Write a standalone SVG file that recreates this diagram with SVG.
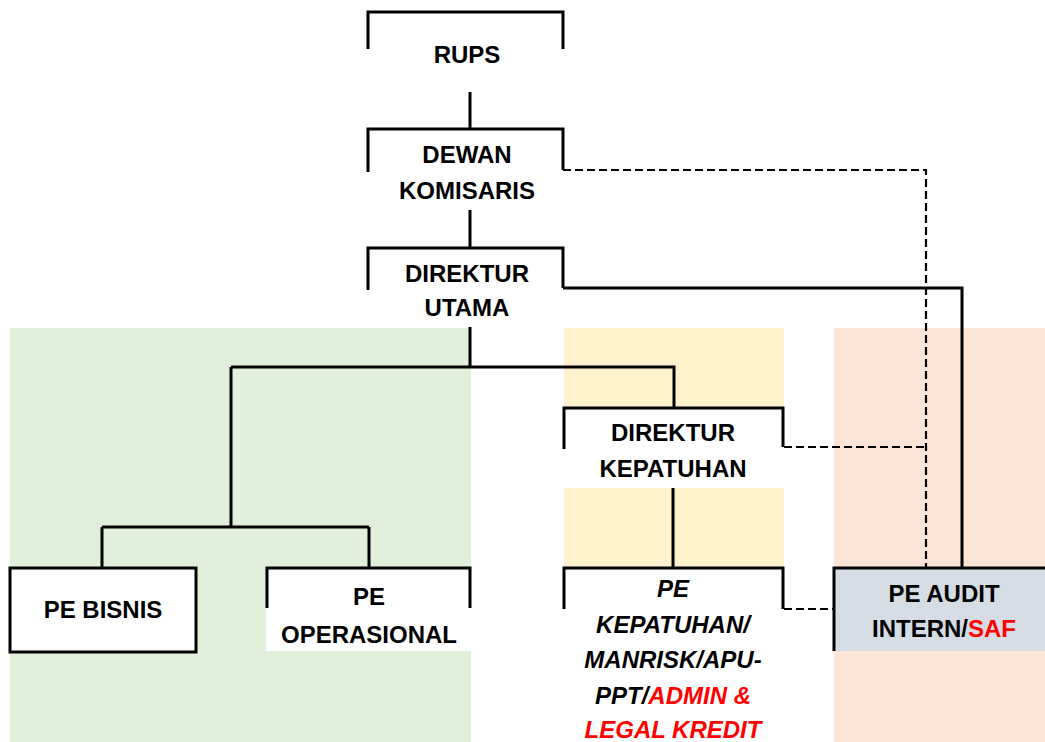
<svg xmlns="http://www.w3.org/2000/svg" width="1045" height="742" viewBox="0 0 1045 742">
<style>
.t{font-family:"Liberation Sans",Arial,sans-serif;font-weight:bold;font-size:24px;fill:#000;text-anchor:middle}
.i{font-style:italic}
.r{fill:#FF0000}
.b{fill:none;stroke:#000;stroke-width:3}
.s{fill:none;stroke:#000;stroke-width:3}
.d{fill:none;stroke:#000;stroke-width:2.2;stroke-dasharray:8 4}
.w{fill:#fff}
</style>
<rect width="1045" height="742" fill="#fff"/>
<g id="bands">
<rect x="10" y="328" width="461" height="414" fill="#E2EFDA"/>
<rect x="564" y="328" width="220" height="414" fill="#FFF2CC"/>
<rect x="834" y="328" width="211" height="414" fill="#FCE4D6"/>
</g>
<g id="connectors">
<path class="s" d="M470,92 V128"/>
<path class="s" d="M470,210 V247"/>
<path class="s" d="M470,327 V367 M231,367 H674 V408 M231,367 V527 M102,527 H369 M102,527 V568 M369,527 V568"/>
<path class="s" d="M673,488 V567"/>
<path class="s" d="M563,288 H962 V567"/>
<path class="d" d="M563,170 H926 V567"/>
<path class="d" d="M784,447 H926"/>
<path class="d" d="M784,609 H834"/>
</g>
<g id="rups">
<path class="b" d="M368,49 V12 H563 V49"/>
<text class="t" x="467" y="63">RUPS</text>
</g>
<g id="dewan">
<path class="b" d="M368,172 V129 H563 V170"/>
<text class="t" x="467" y="163">DEWAN</text>
<text class="t" x="467" y="199">KOMISARIS</text>
</g>
<g id="dirut">
<path class="b" d="M368,290 V248 H563 V288"/>
<text class="t" x="467" y="282">DIREKTUR</text>
<text class="t" x="467" y="316">UTAMA</text>
</g>
<g id="dirkep">
<rect class="w" x="563" y="408" width="221" height="80"/>
<path class="b" d="M564,449 V408 H783 V447"/>
<text class="t" x="673" y="441">DIREKTUR</text>
<text class="t" x="673" y="477">KEPATUHAN</text>
</g>
<g id="pebisnis">
<rect x="10" y="568" width="186" height="84" fill="#fff" stroke="#000" stroke-width="3"/>
<text class="t" x="103" y="618">PE BISNIS</text>
</g>
<g id="peops">
<rect class="w" x="266" y="567" width="205" height="84"/>
<path class="b" d="M267,608 V568 H470 V608"/>
<text class="t" x="369" y="605">PE</text>
<text class="t" x="369" y="643">OPERASIONAL</text>
</g>
<g id="pekep">
<rect class="w" x="563" y="567" width="221" height="175"/>
<path class="b" d="M564,609 V568 H783 V609"/>
<text class="t i" x="673" y="597">PE</text>
<text class="t i" x="673" y="633">KEPATUHAN/</text>
<text class="t i" x="673" y="668">MANRISK/APU-</text>
<text class="t i" x="673" y="704">PPT/<tspan class="r">ADMIN &amp;</tspan></text>
<text class="t i r" x="673" y="738">LEGAL KREDIT</text>
</g>
<g id="peaudit">
<rect x="834" y="567" width="211" height="84" fill="#D6DCE4"/>
<path class="b" d="M834,651 V568 H1045"/>
<text class="t" x="944" y="602">PE AUDIT</text>
<text class="t" x="944" y="637">INTERN/<tspan class="r">SAF</tspan></text>
</g>
</svg>
